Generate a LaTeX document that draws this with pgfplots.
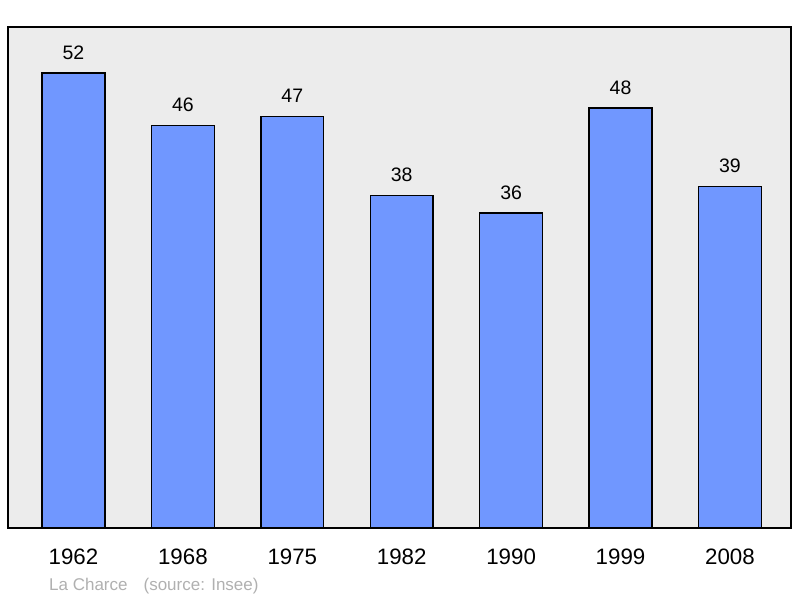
\documentclass[border=0pt]{standalone}
\usepackage{pgfplots}
\pgfplotsset{compat=1.18}
\usepackage{fontspec}
\setmainfont{Liberation Sans}
\definecolor{bg}{HTML}{ECECEC}
\definecolor{barc}{HTML}{7097FF}
\definecolor{src}{HTML}{B0B0B0}
\begin{document}
\begin{tikzpicture}[x=1pt,y=1pt]
\useasboundingbox (0,0) rectangle (800,598);
\begin{axis}[
  at={(8.5pt,70pt)}, anchor=south west,
  scale only axis, width=782.5pt, height=501pt,
  xmin=-0.594, xmax=6.558, ymin=0, ymax=57.26,
  axis background/.style={fill=bg},
  axis line style={line width=2pt, black},
  ytick=\empty,
  xtick={0,1,2,3,4,5,6},
  xticklabels={1962,1968,1975,1982,1990,1999,2008},
  major tick length=0pt,
  xticklabel style={font=\fontsize{22.3}{22}\selectfont, anchor=base, yshift=-36pt, inner sep=0pt},
  ybar, bar width=0.574,
  nodes near coords,
  /pgf/number format/assume math mode=true,
  every node near coord/.append style={font=\fontsize{19.5}{20}\selectfont, anchor=base, yshift=14pt, inner sep=0pt, black},
  clip=false,
]
\addplot[fill=barc, draw=black, line width=1.3pt] coordinates {(0,52) (1,46) (2,47) (3,38) (4,36) (5,48) (6,39)};
\end{axis}
\node[anchor=base west, inner sep=0pt, text=src, font=\fontsize{17}{17}\selectfont] at (49,8) {La Charce\hspace{16pt}(source: Insee)};
\end{tikzpicture}
\end{document}
